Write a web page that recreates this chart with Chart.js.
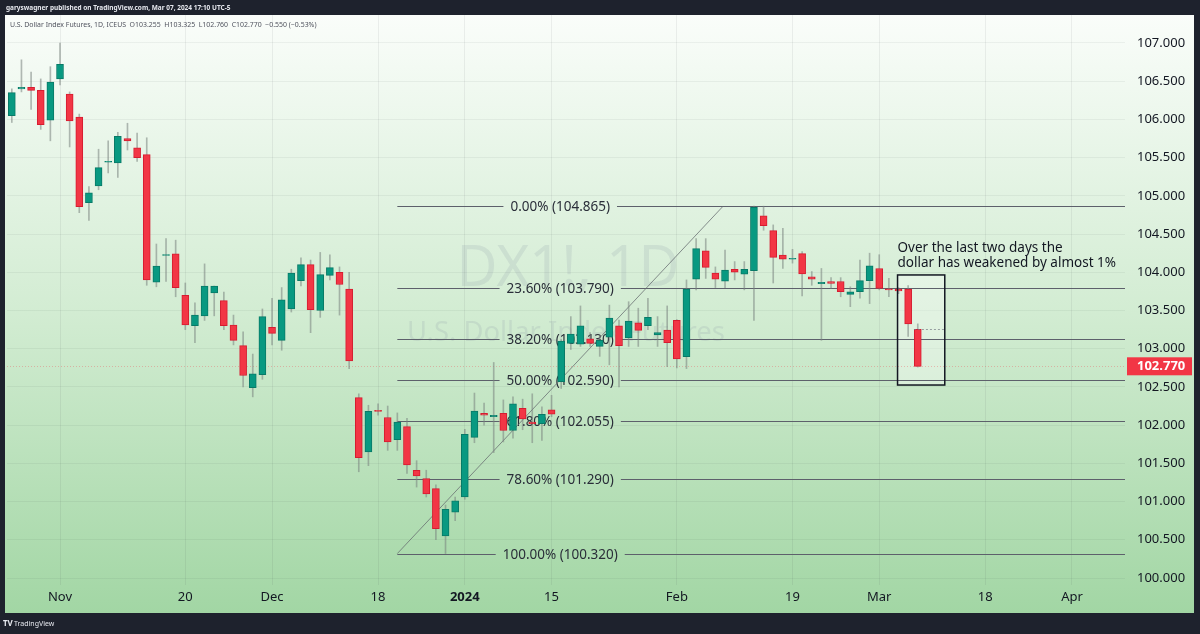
<!DOCTYPE html>
<html><head><meta charset="utf-8">
<script src="https://cdn.jsdelivr.net/npm/chart.js@4.4.1/dist/chart.umd.min.js"></script>
<style>html,body{margin:0;padding:0;background:#1e222d;overflow:hidden}canvas{display:block}</style>
</head><body>
<canvas id="c" width="1200" height="634"></canvas>
<script>
// ---- categories (trading days, incl. empty future slots) ----
const dates = [
'2023-10-25','2023-10-26','2023-10-27','2023-10-30','2023-10-31',
'2023-11-01','2023-11-02','2023-11-03','2023-11-06','2023-11-07','2023-11-08','2023-11-09','2023-11-10',
'2023-11-13','2023-11-14','2023-11-15','2023-11-16','2023-11-17','2023-11-20','2023-11-21','2023-11-22',
'2023-11-23','2023-11-24','2023-11-27','2023-11-28','2023-11-29','2023-11-30',
'2023-12-01','2023-12-04','2023-12-05','2023-12-06','2023-12-07','2023-12-08','2023-12-11','2023-12-12',
'2023-12-13','2023-12-14','2023-12-15','2023-12-18','2023-12-19','2023-12-20','2023-12-21','2023-12-22',
'2023-12-26','2023-12-27','2023-12-28','2023-12-29',
'2024-01-02','2024-01-03','2024-01-04','2024-01-05','2024-01-08','2024-01-09','2024-01-10','2024-01-11',
'2024-01-12','2024-01-15','2024-01-16','2024-01-17','2024-01-18','2024-01-19','2024-01-22','2024-01-23',
'2024-01-24','2024-01-25','2024-01-26','2024-01-29','2024-01-30','2024-01-31',
'2024-02-01','2024-02-02','2024-02-05','2024-02-06','2024-02-07','2024-02-08','2024-02-09','2024-02-12',
'2024-02-13','2024-02-14','2024-02-15','2024-02-16','2024-02-19','2024-02-20','2024-02-21','2024-02-22',
'2024-02-23','2024-02-26','2024-02-27','2024-02-28','2024-02-29',
'2024-03-01','2024-03-04','2024-03-05','2024-03-06','2024-03-07','2024-03-08','2024-03-11','2024-03-12',
'2024-03-13','2024-03-14','2024-03-15','2024-03-18','2024-03-19','2024-03-20','2024-03-21','2024-03-22',
'2024-03-25','2024-03-26','2024-03-27','2024-03-28',
'2024-04-01','2024-04-02','2024-04-03','2024-04-04','2024-04-05','2024-04-08'
];

// ---- OHLC series ----
const opens = [
106.05,106.40,106.42,106.38,105.99,106.53,106.33,106.03,104.91,105.13,
105.44,105.43,105.75,105.63,105.54,103.87,104.22,104.24,103.70,103.30,
103.43,103.73,103.63,103.31,103.04,102.49,102.66,103.28,103.11,103.52,
103.89,104.10,103.50,103.96,104.00,103.78,102.36,101.65,102.19,102.10,
101.81,101.98,101.41,101.30,101.17,100.55,100.86,101.06,101.84,102.155,
102.11,102.155,101.93,102.22,102.04,102.02,102.20,102.57,103.07,103.06,
103.13,103.03,103.15,103.30,103.14,103.34,103.30,103.18,103.245,103.37,
102.895,103.91,104.28,103.99,103.885,104.04,103.975,104.02,104.74,104.545,
104.225,104.17,104.245,103.94,103.85,103.88,103.88,103.71,103.745,103.89,
104.05,103.785,103.78,103.78,103.255
];
const highs = [
106.40,106.78,106.62,106.53,106.69,107.00,106.36,106.07,105.12,105.61,
105.72,105.83,105.95,105.82,105.76,104.37,104.44,104.42,103.86,103.60,
104.11,103.82,103.74,103.44,103.22,102.93,103.52,103.66,103.80,104.04,
104.19,104.16,104.26,104.23,104.07,104.00,102.41,102.26,102.28,102.25,
102.16,102.09,101.535,101.41,101.22,100.955,101.06,101.945,102.42,102.29,
102.82,102.33,102.37,102.34,102.41,102.24,102.39,103.12,103.42,103.56,
103.21,103.18,103.57,103.375,103.615,103.53,103.66,103.42,103.56,103.38,
103.90,104.44,104.44,104.07,104.29,104.14,104.14,104.865,104.865,104.62,
104.575,104.30,104.27,104.01,104.05,103.93,103.93,103.81,104.16,104.25,
104.23,103.92,103.80,103.825,103.325
];
const lows = [
105.96,106.36,106.13,105.87,105.72,106.45,105.64,104.78,104.68,105.08,
105.30,105.24,105.60,105.45,103.83,103.81,103.88,103.68,103.25,103.08,
103.37,103.43,103.25,103.05,102.50,102.37,102.60,103.05,102.98,103.48,
103.82,103.21,103.41,103.90,103.44,102.74,101.39,101.47,102.13,101.67,
101.67,101.37,101.19,101.06,100.50,100.32,100.75,101.03,101.77,102.00,
101.64,101.78,101.83,101.94,101.77,101.80,102.11,102.48,102.99,103.03,
103.03,102.90,102.79,102.50,103.03,103.03,103.25,103.03,102.765,102.75,
102.74,103.77,103.92,103.80,103.80,103.90,103.77,103.37,104.55,103.86,
104.05,104.12,103.69,103.83,103.11,103.79,103.68,103.55,103.66,103.59,
103.77,103.68,103.72,103.16,102.76
];
const closes = [
106.35,106.42,106.38,105.93,106.49,106.72,105.98,104.86,105.04,105.37,
105.45,105.78,105.72,105.50,103.90,104.08,104.23,103.80,103.31,103.44,
103.82,103.82,103.30,103.11,102.65,102.67,103.42,103.20,103.64,103.99,
104.10,103.51,103.97,104.06,103.84,102.84,101.575,102.18,102.18,101.78,
102.04,101.48,101.335,101.10,100.645,100.90,101.01,101.88,102.185,102.13,
102.13,101.93,102.28,102.08,102.02,102.14,102.145,103.10,103.19,103.30,
103.07,103.11,103.40,103.04,103.36,103.24,103.41,103.21,103.08,102.865,
103.78,104.31,104.065,103.91,104.03,104.00,104.04,104.85,104.61,104.195,
104.17,104.18,103.98,103.91,103.87,103.855,103.745,103.745,103.89,104.085,
103.79,103.77,103.755,103.325,102.77
];

// ---- axis ticks ----
const yTicks = [100,100.5,101,101.5,102,102.5,103,103.5,104,104.5,105,105.5,106,106.5,107];
const tickDates = ['2023-11-01','2023-11-20','2023-12-01','2023-12-18','2024-01-02','2024-01-15','2024-02-01','2024-02-19','2024-03-01','2024-03-18','2024-04-01'];
const tickTexts = ['Nov','20','Dec','18','2024','15','Feb','19','Mar','18','Apr'];
const yMin = 99.9085, yMax = 107.3663;

// ---- Fibonacci retracement ----
const fibPcts = [0, 23.6, 38.2, 50, 61.8, 78.6, 100];
const fibLevels = [104.865, 103.790, 103.130, 102.590, 102.055, 101.290, 100.320];
const fibStartIdx = 40, fibEndIdx = 73.8;

// ---- annotation ----
const noteLines = ['Over the last two days the', 'dollar has weakened by almost 1%'];
const noteBoxIdx = [91.9, 96.8];
const noteBoxVal = [102.525, 103.965];
const lastOpen = 103.255, lastPrice = 102.770;

const headerTop = 'garyswagner published on TradingView.com, Mar 07, 2024 17:10 UTC-5';
const headerInfo = 'U.S. Dollar Index Futures, 1D, ICEUS  O103.255  H103.325  L102.760  C102.770  \u22120.550 (\u22120.53%)';
const wmTitle = 'DX1!, 1D', wmSub = 'U.S. Dollar Index Futures';

const UP = '#089981', DOWN = '#F23645';
const bodyColors = opens.map((o,i)=> closes[i] >= o ? UP : DOWN);
const bodyBorders = opens.map((o,i)=> closes[i] >= o ? '#087a67' : '#d61c30');
const tickIdx = new Set(tickDates.map(d => dates.indexOf(d)));

function fitSize(ctx, text, weight, family, target){
  ctx.font = `${weight} 20px ${family}`;
  return 20 * target / ctx.measureText(text).width;
}

const deco = {
  id: 'deco',
  beforeDraw(chart){
    const ctx = chart.ctx; ctx.save();
    ctx.fillStyle = '#1e222d'; ctx.fillRect(0,0,1200,634);
    const g = ctx.createLinearGradient(0,15,0,613);
    g.addColorStop(0,'#fafdfa'); g.addColorStop(0.5,'#d2ecd2'); g.addColorStop(1,'#a2d6a4');
    ctx.fillStyle = g; ctx.fillRect(5,15,1189,598);
    // top header
    let s = fitSize(ctx, headerTop, 'bold', '"Noto Sans"', 225);
    ctx.font = `bold ${s}px "Noto Sans"`; ctx.fillStyle = '#e6e8ee'; ctx.textBaseline = 'middle'; ctx.textAlign='left';
    ctx.fillText(headerTop, 6, 8);
    // bottom logo
    ctx.font = 'bold 8px "Noto Sans"'; ctx.fillStyle = '#e6e8ee';
    ctx.fillText('TV', 3, 624);
    ctx.font = '7px "Noto Sans"';
    ctx.fillText('TradingView', 14, 624);
    ctx.restore();
  },
  beforeDatasetsDraw(chart){
    const ctx = chart.ctx, x = chart.scales.x, y = chart.scales.y, a = chart.chartArea;
    ctx.save();
    // watermark
    const cx = (a.left + a.right)/2, cy = (a.top + a.bottom)/2;
    ctx.fillStyle = 'rgba(110,115,150,0.13)'; ctx.textAlign = 'center'; ctx.textBaseline = 'middle';
    let s = fitSize(ctx, wmTitle, 'normal', '"Noto Sans"', 223);
    ctx.font = `${s}px "Noto Sans"`; ctx.fillText(wmTitle, cx+2, cy-30);
    s = fitSize(ctx, wmSub, 'normal', '"Noto Sans"', 318);
    ctx.font = `${s}px "Noto Sans"`; ctx.fillText(wmSub, cx, cy+33);
    // annotation box fill
    const bx0 = x.getPixelForValue(noteBoxIdx[0]), bx1 = x.getPixelForValue(noteBoxIdx[1]);
    const by0 = y.getPixelForValue(noteBoxVal[1]), by1 = y.getPixelForValue(noteBoxVal[0]);
    ctx.fillStyle = 'rgba(255,255,255,0.35)'; ctx.fillRect(bx0, by0, bx1-bx0, by1-by0);
    // fib
    const xs = x.getPixelForValue(fibStartIdx), xe = x.getPixelForValue(fibEndIdx);
    const lc = (xs + xe)/2;
    ctx.font = '13.5px "Noto Sans"';
    ctx.lineWidth = 1; ctx.strokeStyle = '#5d606b';
    fibLevels.forEach((lv,i)=>{
      const py = Math.round(y.getPixelForValue(lv)) + 0.5;
      const txt = `${fibPcts[i].toFixed(2)}% (${lv.toFixed(3)})`;
      const w = ctx.measureText(txt).width;
      ctx.beginPath();
      ctx.moveTo(xs, py); ctx.lineTo(lc - w/2 - 7, py);
      ctx.moveTo(lc + w/2 + 7, py); ctx.lineTo(a.right, py);
      ctx.stroke();
      ctx.fillStyle = '#2a2e39'; ctx.fillText(txt, lc, py+0.5);
    });
    ctx.strokeStyle = 'rgba(100,105,110,0.75)';
    ctx.beginPath();
    ctx.moveTo(xs, y.getPixelForValue(fibLevels[6]));
    ctx.lineTo(xe, y.getPixelForValue(fibLevels[0]));
    ctx.stroke();
    // price line
    const pp = Math.round(y.getPixelForValue(lastPrice)) + 0.5;
    ctx.strokeStyle = 'rgba(242,54,69,0.3)'; ctx.setLineDash([1,2]);
    ctx.beginPath(); ctx.moveTo(a.left, pp); ctx.lineTo(a.right, pp); ctx.stroke();
    ctx.restore();
  },
  afterDatasetsDraw(chart){
    const ctx = chart.ctx, x = chart.scales.x, y = chart.scales.y;
    ctx.save();
    const bx0 = x.getPixelForValue(noteBoxIdx[0]), bx1 = x.getPixelForValue(noteBoxIdx[1]);
    const by0 = y.getPixelForValue(noteBoxVal[1]), by1 = y.getPixelForValue(noteBoxVal[0]);
    // open dotted marker
    const po = Math.round(y.getPixelForValue(lastOpen)) + 0.5;
    ctx.strokeStyle = 'rgba(120,123,134,0.7)'; ctx.setLineDash([2,2]); ctx.lineWidth = 1;
    ctx.beginPath(); ctx.moveTo(x.getPixelForValue(93.6), po); ctx.lineTo(bx1, po); ctx.stroke();
    ctx.setLineDash([]);
    ctx.strokeStyle = '#131722'; ctx.lineWidth = 1.5;
    ctx.strokeRect(bx0, by0, bx1-bx0, by1-by0);
    ctx.fillStyle = '#131722'; ctx.font = '13.5px "Noto Sans"'; ctx.textAlign='left'; ctx.textBaseline='middle';
    ctx.fillText(noteLines[0], bx0, by0 - 27);
    ctx.fillText(noteLines[1], bx0, by0 - 12);
    ctx.restore();
  },
  afterDraw(chart){
    const ctx = chart.ctx, y = chart.scales.y, a = chart.chartArea;
    ctx.save();
    const py = y.getPixelForValue(lastPrice);
    ctx.fillStyle = DOWN; ctx.fillRect(a.right + 2, py - 9, 65, 18);
    ctx.fillStyle = '#ffffff'; ctx.font = 'bold 13px "Noto Sans"'; ctx.textAlign='left'; ctx.textBaseline='middle';
    ctx.fillText(lastPrice.toFixed(3), a.right + 12, py + 0.5);
    let s = fitSize(ctx, headerInfo, 'normal', '"Noto Sans"', 307);
    ctx.font = `${s}px "Noto Sans"`; ctx.fillStyle = '#50535e';
    ctx.fillText(headerInfo, 10, 25);
    ctx.restore();
  }
};

new Chart(document.getElementById('c'), {
  type: 'bar',
  data: {
    labels: dates,
    datasets: [
      { label:'body', data: opens.map((o,i)=>[o, closes[i]]), backgroundColor: bodyColors, borderColor: bodyBorders,
        borderWidth: 1, borderSkipped: false, barThickness: 7, minBarLength: 1, grouped: false },
      { label:'wick', data: lows.map((l,i)=>[l, highs[i]]), backgroundColor: 'rgba(120,130,125,0.55)',
        borderWidth: 0, barThickness: 1, grouped: false }
    ]
  },
  options: {
    responsive: false, animation: false, events: [], devicePixelRatio: 1,
    layout: { padding: { left: 7, top: 15, right: 6, bottom: 21 } },
    plugins: { legend: { display: false }, tooltip: { enabled: false } },
    scales: {
      x: {
        type: 'category', offset: true,
        border: { display: false },
        grid: { offset: false, drawTicks: false, color: c => tickIdx.has(c.index) ? 'rgba(42,46,57,0.07)' : 'transparent' },
        ticks: {
          autoSkip: false, maxRotation: 0, minRotation: 0, padding: 4, color: '#131722',
          font: c => ({ family: '"Noto Sans"', size: 13, weight: c.index === dates.indexOf('2024-01-02') ? 'bold' : 'normal' }),
          callback: (v, i) => { const k = tickDates.indexOf(dates[i]); return k >= 0 ? tickTexts[k] : ''; }
        },
        afterFit: s => { s.height = 28; s.paddingLeft = 0; s.paddingRight = 0; }
      },
      y: {
        type: 'linear', position: 'right', min: yMin, max: yMax,
        border: { display: false },
        grid: { drawTicks: false, color: 'rgba(42,46,57,0.06)' },
        ticks: { padding: 12, color: '#131722', font: { family: '"Noto Sans"', size: 13 }, callback: v => v.toFixed(3) },
        afterBuildTicks: s => { s.ticks = yTicks.map(v => ({ value: v })); },
        afterFit: s => { s.width = 69; s.paddingTop = 0; s.paddingBottom = 0; }
      }
    }
  },
  plugins: [deco]
});
</script>
</body></html>
